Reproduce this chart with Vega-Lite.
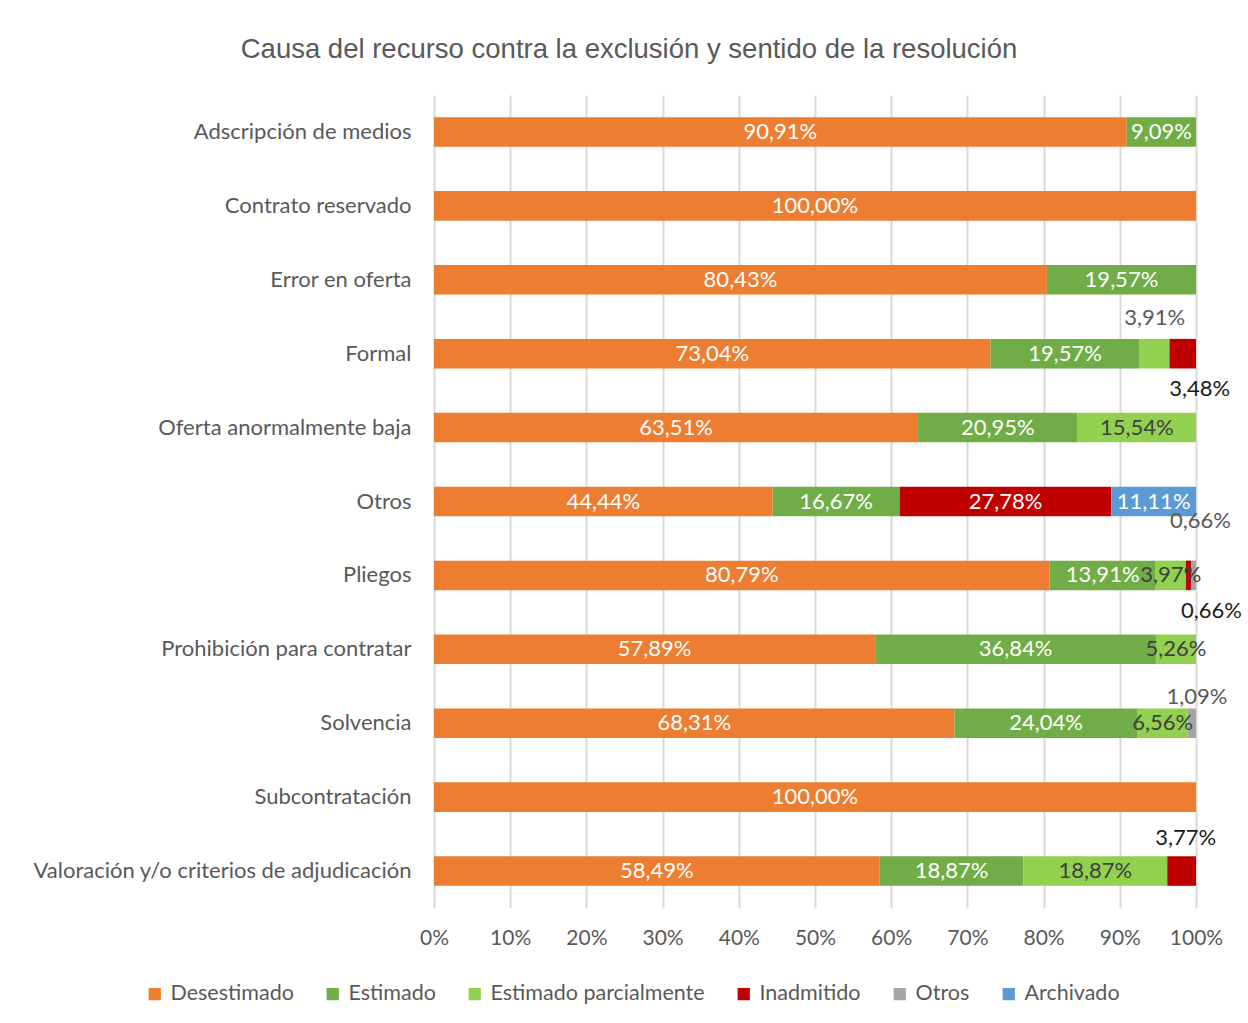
{
  "$schema": "https://vega.github.io/schema/vega-lite/v6.json",
  "width": 762,
  "height": 813,
  "autosize": {"type": "none"},
  "padding": {"left": 434, "top": 95, "right": 52, "bottom": 115},
  "background": "white",
  "title": {
    "text": "Causa del recurso contra la exclusión  y sentido de la resolución",
    "font": "Liberation Sans",
    "fontSize": 27.5,
    "fontWeight": "normal",
    "color": "#595959",
    "anchor": "middle",
    "dx": -186,
    "offset": 32
  },
  "config": {
    "locale": {"number": {"decimal": ",", "thousands": ".", "grouping": [3], "currency": ["", " €"]}},
    "view": {"stroke": null},
    "font": "Lato"
  },
  "data": {
    "values": [
      {"causa": "Adscripción de medios", "sentido": "Desestimado", "valor": 0.9091},
      {"causa": "Adscripción de medios", "sentido": "Estimado", "valor": 0.0909},
      {"causa": "Contrato reservado", "sentido": "Desestimado", "valor": 1.0},
      {"causa": "Error en oferta", "sentido": "Desestimado", "valor": 0.8043},
      {"causa": "Error en oferta", "sentido": "Estimado", "valor": 0.1957},
      {"causa": "Formal", "sentido": "Desestimado", "valor": 0.7304},
      {"causa": "Formal", "sentido": "Estimado", "valor": 0.1957},
      {"causa": "Formal", "sentido": "Estimado parcialmente", "valor": 0.0391},
      {"causa": "Formal", "sentido": "Inadmitido", "valor": 0.0348},
      {"causa": "Oferta anormalmente baja", "sentido": "Desestimado", "valor": 0.6351},
      {"causa": "Oferta anormalmente baja", "sentido": "Estimado", "valor": 0.2095},
      {"causa": "Oferta anormalmente baja", "sentido": "Estimado parcialmente", "valor": 0.1554},
      {"causa": "Otros", "sentido": "Desestimado", "valor": 0.4444},
      {"causa": "Otros", "sentido": "Estimado", "valor": 0.1667},
      {"causa": "Otros", "sentido": "Inadmitido", "valor": 0.2778},
      {"causa": "Otros", "sentido": "Archivado", "valor": 0.1111},
      {"causa": "Pliegos", "sentido": "Desestimado", "valor": 0.8079},
      {"causa": "Pliegos", "sentido": "Estimado", "valor": 0.1391},
      {"causa": "Pliegos", "sentido": "Estimado parcialmente", "valor": 0.0397},
      {"causa": "Pliegos", "sentido": "Inadmitido", "valor": 0.0066},
      {"causa": "Pliegos", "sentido": "Otros", "valor": 0.0066},
      {"causa": "Prohibición para contratar", "sentido": "Desestimado", "valor": 0.5789},
      {"causa": "Prohibición para contratar", "sentido": "Estimado", "valor": 0.3684},
      {"causa": "Prohibición para contratar", "sentido": "Estimado parcialmente", "valor": 0.0526},
      {"causa": "Solvencia", "sentido": "Desestimado", "valor": 0.6831},
      {"causa": "Solvencia", "sentido": "Estimado", "valor": 0.2404},
      {"causa": "Solvencia", "sentido": "Estimado parcialmente", "valor": 0.0656},
      {"causa": "Solvencia", "sentido": "Otros", "valor": 0.0109},
      {"causa": "Subcontratación", "sentido": "Desestimado", "valor": 1.0},
      {"causa": "Valoración y/o criterios de adjudicación", "sentido": "Desestimado", "valor": 0.5849},
      {"causa": "Valoración y/o criterios de adjudicación", "sentido": "Estimado", "valor": 0.1887},
      {"causa": "Valoración y/o criterios de adjudicación", "sentido": "Estimado parcialmente", "valor": 0.1887},
      {"causa": "Valoración y/o criterios de adjudicación", "sentido": "Inadmitido", "valor": 0.0377}
    ]
  },
  "transform": [
    {"calculate": "indexof(['Desestimado','Estimado','Estimado parcialmente','Inadmitido','Otros','Archivado'], datum.sentido)", "as": "orden"},
    {"stack": "valor", "groupby": ["causa"], "sort": [{"field": "orden", "order": "ascending"}], "offset": "normalize", "as": ["x0", "x1"]},
    {"calculate": "(datum.x0 + datum.x1) / 2", "as": "xm"}
  ],
  "encoding": {
    "y": {
      "field": "causa",
      "type": "nominal",
      "sort": null,
      "scale": {"paddingInner": 0.6, "paddingOuter": 0.3},
      "axis": {
        "title": null,
        "ticks": false,
        "domain": false,
        "labelFont": "Lato",
        "labelFontSize": 22,
        "labelColor": "#595959",
        "labelPadding": 23,
        "labelLimit": 0
      }
    }
  },
  "layer": [
    {
      "mark": {"type": "bar"},
      "encoding": {
        "x": {
          "field": "x0",
          "type": "quantitative",
          "scale": {"domain": [0, 1], "nice": false},
          "axis": {
            "title": null,
            "format": "%",
            "values": [0, 0.1, 0.2, 0.3, 0.4, 0.5, 0.6, 0.7, 0.8, 0.9, 1],
            "labelOverlap": false,
            "labelFlush": false,
            "grid": true,
            "gridColor": "#d9d9d9",
            "gridWidth": 2,
            "ticks": false,
            "domain": false,
            "labelFont": "Lato",
            "labelFontSize": 21,
            "labelColor": "#595959",
            "labelPadding": 19
          }
        },
        "x2": {"field": "x1"},
        "color": {
          "field": "sentido",
          "type": "nominal",
          "scale": {
            "domain": ["Desestimado", "Estimado", "Estimado parcialmente", "Inadmitido", "Otros", "Archivado"],
            "range": ["#ED7D31", "#70AD47", "#92D050", "#C00000", "#A5A5A5", "#5B9BD5"]
          },
          "legend": {
            "title": null,
            "orient": "none",
            "direction": "horizontal",
            "legendX": -290,
            "legendY": 888,
            "symbolType": "square",
            "symbolSize": 150,
            "symbolStrokeWidth": 0,
            "labelFont": "Lato",
            "labelFontSize": 21.5,
            "labelColor": "#595959",
            "labelLimit": 0,
            "columnPadding": 28,
            "labelOffset": 5
          }
        }
      }
    },
    {
      "transform": [
        {"filter": "datum.valor >= 0.05 || (datum.causa == 'Pliegos' && datum.sentido == 'Estimado parcialmente')"}
      ],
      "mark": {"type": "text", "font": "Lato", "fontSize": 22, "baseline": "middle", "align": "center"},
      "encoding": {
        "x": {"field": "xm", "type": "quantitative"},
        "text": {"field": "valor", "type": "quantitative", "format": ".2%"},
        "color": {
          "condition": {"test": "datum.sentido == 'Estimado parcialmente'", "value": "#404040"},
          "value": "#ffffff"
        }
      }
    },
    {
      "transform": [{"filter": "datum.causa == 'Formal' && datum.sentido == 'Estimado parcialmente'"}],
      "mark": {"type": "text", "font": "Lato", "fontSize": 22, "baseline": "middle", "align": "center", "dy": -36, "color": "#595959"},
      "encoding": {"x": {"field": "xm", "type": "quantitative"}, "text": {"field": "valor", "type": "quantitative", "format": ".2%"}}
    },
    {
      "transform": [{"filter": "datum.causa == 'Formal' && datum.sentido == 'Inadmitido'"}],
      "mark": {"type": "text", "font": "Lato", "fontSize": 22, "baseline": "middle", "align": "center", "dx": 17, "dy": 35, "color": "#1a1a1a"},
      "encoding": {"x": {"field": "xm", "type": "quantitative"}, "text": {"field": "valor", "type": "quantitative", "format": ".2%"}}
    },
    {
      "transform": [{"filter": "datum.causa == 'Pliegos' && datum.sentido == 'Inadmitido'"}],
      "mark": {"type": "text", "font": "Lato", "fontSize": 22, "baseline": "middle", "align": "center", "dx": 12, "dy": -54, "color": "#595959"},
      "encoding": {"x": {"field": "xm", "type": "quantitative"}, "text": {"field": "valor", "type": "quantitative", "format": ".2%"}}
    },
    {
      "transform": [{"filter": "datum.causa == 'Pliegos' && datum.sentido == 'Otros'"}],
      "mark": {"type": "text", "font": "Lato", "fontSize": 22, "baseline": "middle", "align": "center", "dx": 18, "dy": 36, "color": "#1a1a1a"},
      "encoding": {"x": {"field": "xm", "type": "quantitative"}, "text": {"field": "valor", "type": "quantitative", "format": ".2%"}}
    },
    {
      "transform": [{"filter": "datum.causa == 'Solvencia' && datum.sentido == 'Otros'"}],
      "mark": {"type": "text", "font": "Lato", "fontSize": 22, "baseline": "middle", "align": "center", "dx": 5, "dy": -26, "color": "#595959"},
      "encoding": {"x": {"field": "xm", "type": "quantitative"}, "text": {"field": "valor", "type": "quantitative", "format": ".2%"}}
    },
    {
      "transform": [{"filter": "datum.causa == 'Valoración y/o criterios de adjudicación' && datum.sentido == 'Inadmitido'"}],
      "mark": {"type": "text", "font": "Lato", "fontSize": 22, "baseline": "middle", "align": "center", "dx": 4, "dy": -33, "color": "#1a1a1a"},
      "encoding": {"x": {"field": "xm", "type": "quantitative"}, "text": {"field": "valor", "type": "quantitative", "format": ".2%"}}
    }
  ]
}
